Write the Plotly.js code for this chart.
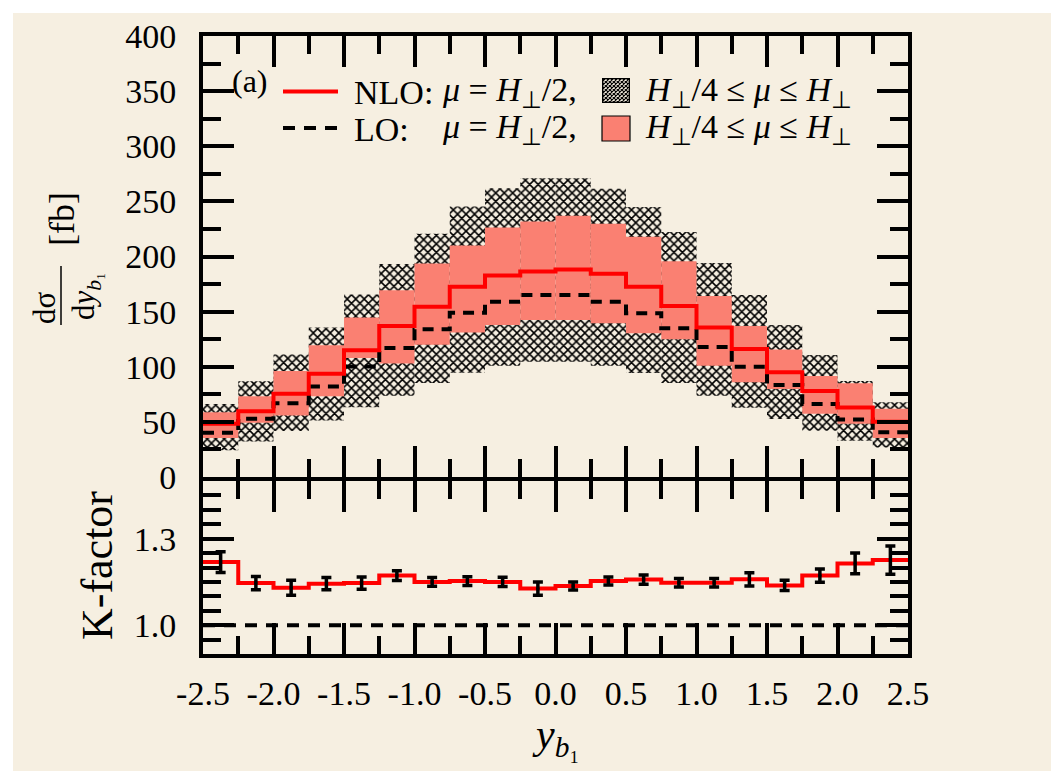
<!DOCTYPE html>
<html>
<head>
<meta charset="utf-8">
<script src="https://cdn.plot.ly/plotly-3.0.1.min.js"></script>
<style>
  html, body { margin: 0; padding: 0; background: #ffffff; width: 1051px; height: 771px; overflow: hidden; }
  #chart { position: absolute; left: 13px; top: 13px; width: 1038px; height: 758px; }
</style>
</head>
<body>
<div id="chart"></div>
<script>
// ---------------- data ----------------
const binEdges = [-2.5, -2.25, -2.0, -1.75, -1.5, -1.25, -1.0, -0.75, -0.5, -0.25, 0.0,
                  0.25, 0.5, 0.75, 1.0, 1.25, 1.5, 1.75, 2.0, 2.25, 2.5];
const binCenters = [-2.375, -2.125, -1.875, -1.625, -1.375, -1.125, -0.875, -0.625, -0.375, -0.125,
                    0.125, 0.375, 0.625, 0.875, 1.125, 1.375, 1.625, 1.875, 2.125, 2.375];
const binWidth = 0.25;

// NLO, mu = H_perp/2  [fb]
const nloCentral = [48.3, 59.7, 75.4, 93.7, 115.0, 137.0, 154.5, 172.5, 182.8, 186.4,
                    188.2, 184.3, 172.5, 155.0, 135.5, 116.0, 94.9, 78.0, 63.0, 50.2];
// LO, mu = H_perp/2  [fb]
const loCentral = [40.2, 52.8, 67.0, 82.0, 100.3, 116.9, 134.0, 149.0, 159.0, 165.0,
                   165.0, 159.0, 148.5, 134.9, 118.0, 100.0, 83.5, 66.3, 52.2, 40.6];
// NLO scale band H/4 <= mu <= H
const nloLow  = [35.4, 49.2, 55.8, 73.3, 107.9, 103.0, 119.9, 131.0, 137.9, 142.4,
                 142.4, 139.4, 130.4, 125.0, 100.9, 85.9, 79.9, 57.3, 48.3, 35.4];
const nloHigh = [58.8, 73.3, 96.1, 119.6, 144.6, 169.5, 193.6, 210.0, 226.4, 231.8,
                 236.9, 229.7, 218.0, 195.7, 164.1, 137.0, 115.7, 91.5, 85.0, 61.8];
// LO scale band H/4 <= mu <= H
const loLow  = [24.2, 32.3, 41.7, 51.3, 63.3, 73.8, 85.3, 94.6, 100.9, 104.5,
                104.5, 100.9, 94.3, 85.3, 73.8, 62.7, 52.5, 42.0, 32.8, 26.8];
const loHigh = [66.3, 86.8, 111.2, 135.5, 165.6, 193.3, 220.7, 245.3, 261.9, 270.9,
                270.9, 261.4, 245.0, 222.2, 194.2, 165.0, 137.9, 110.6, 87.0, 67.9];

// K-factor and its error
const kFactor = [1.219, 1.146, 1.130, 1.144, 1.146, 1.172, 1.150, 1.153, 1.150, 1.127,
                 1.136, 1.153, 1.158, 1.147, 1.147, 1.159, 1.138, 1.172, 1.214, 1.226];
const kErr    = [0.036, 0.023, 0.026, 0.021, 0.021, 0.017, 0.015, 0.015, 0.016, 0.023,
                 0.014, 0.014, 0.016, 0.015, 0.015, 0.023, 0.018, 0.023, 0.036, 0.049];

// tick labels
const xTickVals = [-2.5, -2.0, -1.5, -1.0, -0.5, 0.0, 0.5, 1.0, 1.5, 2.0, 2.5];
const xTickText = ['-2.5', '-2.0', '-1.5', '-1.0', '-0.5', '0.0', '0.5', '1.0', '1.5', '2.0', '2.5'];
const yTickVals = [0, 50, 100, 150, 200, 250, 300, 350, 400];
const yMinorVals = [25, 75, 125, 175, 225, 275, 325, 375];
const kTickVals = [1.0, 1.3];
const kTickText = ['1.0', '1.3'];
const kMinorVals = [0.9, 0.95, 1.05, 1.1, 1.15, 1.2, 1.25, 1.35, 1.4, 1.45, 1.5];

// ---------------- helpers ----------------
const W = 1038, H = 758, ML = 190, MR = 143, MT = 23, MB = 117, OFF = 13;
function px(pageX) { return (pageX - OFF - ML) / (W - ML - MR); }
function py(pageY) { return (H - MB - (pageY - OFF)) / (H - MT - MB); }
const stepY = arr => arr.concat([arr[arr.length - 1]]);
const diff = (a, b) => a.map((v, i) => v - b[i]);

const FONT = 'Liberation Serif, Times New Roman, serif';
const BG = '#f6efe1';
const SALMON = '#fa8072';

// ---------------- traces ----------------
const traces = [
  { // LO band (hatched)
    type: 'bar', x: binCenters, base: loLow, y: diff(loHigh, loLow), width: binWidth,
    marker: { color: 'black', line: { width: 0 },
              pattern: { shape: 'x', size: 6, solidity: 0.45, fillmode: 'replace' } },
    xaxis: 'x', yaxis: 'y', hoverinfo: 'skip', showlegend: false
  },
  { // NLO band
    type: 'bar', x: binCenters, base: nloLow, y: diff(nloHigh, nloLow), width: binWidth,
    marker: { color: SALMON, line: { width: 0 } },
    xaxis: 'x', yaxis: 'y', hoverinfo: 'skip', showlegend: false
  },
  { // LO central
    type: 'scatter', mode: 'lines', x: binEdges, y: stepY(loCentral),
    line: { shape: 'hv', color: 'black', width: 4, dash: '11px,8px' },
    xaxis: 'x', yaxis: 'y', showlegend: false
  },
  { // NLO central
    type: 'scatter', mode: 'lines', x: binEdges, y: stepY(nloCentral),
    line: { shape: 'hv', color: '#ff0000', width: 4 },
    xaxis: 'x', yaxis: 'y', showlegend: false
  },
  { // K-factor step
    type: 'scatter', mode: 'lines', x: binEdges, y: stepY(kFactor),
    line: { shape: 'hv', color: '#ff0000', width: 4 },
    xaxis: 'x2', yaxis: 'y2', showlegend: false
  },
  { // K-factor errors
    type: 'scatter', mode: 'markers', x: binCenters, y: kFactor,
    marker: { size: 3, color: 'black' },
    error_y: { type: 'data', array: kErr, visible: true, color: 'black', thickness: 3.5, width: 5 },
    xaxis: 'x2', yaxis: 'y2', showlegend: false
  }
];

// ---------------- axes ----------------
const common = {
  showline: true, linecolor: 'black', linewidth: 4, mirror: 'allticks',
  ticks: 'inside', tickcolor: 'black', tickwidth: 4, ticklen: 31,
  showgrid: false, zeroline: false, fixedrange: true,
  tickfont: { family: FONT, size: 34, color: 'black' }
};
const upperBottom = py(477), lowerTop = py(481);

const layout = {
  width: W, height: H,
  margin: { l: ML, r: MR, t: MT, b: MB, pad: 0 },
  paper_bgcolor: BG, plot_bgcolor: BG,
  barmode: 'overlay', showlegend: false,
  font: { family: FONT, color: 'black' },
  xaxis: Object.assign({}, common, {
    domain: [0, 1], anchor: 'y', range: [-2.5, 2.5],
    tickmode: 'array', tickvals: xTickVals, showticklabels: false,
    minor: { tickmode: 'array', tickvals: binEdges, ticks: 'inside', ticklen: 18, tickwidth: 4, tickcolor: 'black' }
  }),
  yaxis: Object.assign({}, common, {
    domain: [upperBottom, 1], anchor: 'x', range: [0, 400],
    tickmode: 'array', tickvals: yTickVals, ticklabelstandoff: 16,
    minor: { tickmode: 'array', tickvals: yMinorVals, ticks: 'inside', ticklen: 18, tickwidth: 4, tickcolor: 'black' }
  }),
  xaxis2: Object.assign({}, common, {
    domain: [0, 1], anchor: 'y2', range: [-2.5, 2.5],
    tickmode: 'array', tickvals: xTickVals, ticktext: xTickText, ticklabelstandoff: 6,
    minor: { tickmode: 'array', tickvals: binEdges, ticks: 'inside', ticklen: 18, tickwidth: 4, tickcolor: 'black' }
  }),
  yaxis2: Object.assign({}, common, {
    domain: [0, lowerTop], anchor: 'x2', range: [0.9, 1.5],
    tickmode: 'array', tickvals: kTickVals, ticktext: kTickText, ticklabelstandoff: 16,
    minor: { tickmode: 'array', tickvals: kMinorVals, ticks: 'inside', ticklen: 18, tickwidth: 4, tickcolor: 'black' }
  }),
  shapes: [
    // K = 1 reference line
    { type: 'line', xref: 'x2', yref: 'y2', x0: -2.5, x1: 2.5, y0: 1, y1: 1,
      line: { color: 'black', width: 4, dash: '12px,9px' } },
    // fraction bar of y title
    { type: 'line', xref: 'paper', yref: 'paper', x0: px(61), x1: px(61), y0: py(266), y1: py(325),
      line: { color: 'black', width: 1.5 } },
    // legend swatches
    { type: 'line', xref: 'paper', yref: 'paper', x0: px(283), x1: px(338), y0: py(91.5), y1: py(91.5),
      line: { color: '#ff0000', width: 4 } },
    { type: 'line', xref: 'paper', yref: 'paper', x0: px(283), x1: px(338), y0: py(128), y1: py(128),
      line: { color: 'black', width: 4, dash: '12px,9px' } },
    { type: 'rect', xref: 'paper', yref: 'paper', x0: px(602), x1: px(630), y0: py(141), y1: py(116),
      fillcolor: SALMON, line: { color: 'black', width: 1.2 } }
  ],
  annotations: []
};

function ann(text, x, y, size, opts) {
  return Object.assign({
    text: text, xref: 'paper', yref: 'paper', x: x, y: y,
    showarrow: false, xanchor: 'center', yanchor: 'middle',
    font: { family: FONT, size: size, color: 'black' }
  }, opts || {});
}
const Hperp = '<i>H</i><sub>⊥</sub>';
const SP = '\u2005';
const rel = s => SP + s + SP;
layout.annotations.push(
  ann('dσ', px(44), py(308), 31, { textangle: -90 }),
  ann('d<i>y</i><sub><i>b</i>₁</sub>', px(86), py(296), 31, { textangle: -90 }),
  ann('[fb]', px(62), py(219), 36, { textangle: -90 }),
  ann('K-factor', px(97), py(566), 44, { textangle: -90 }),
  ann('<i>y</i><sub><i>b</i>₁</sub>', px(556), py(737), 42),
  ann('(a)', px(230), py(81), 32, { xanchor: 'left' }),
  ann('NLO:', px(352), py(92), 34, { xanchor: 'left' }),
  ann('<i>μ</i>' + rel('=') + Hperp + '/2,', px(440), py(92), 34, { xanchor: 'left' }),
  ann(Hperp + '/4' + rel('≤') + '<i>μ</i>' + rel('≤') + Hperp, px(643), py(92), 34, { xanchor: 'left' }),
  ann('LO:', px(352), py(129), 34, { xanchor: 'left' }),
  ann('<i>μ</i>' + rel('=') + Hperp + '/2,', px(440), py(129), 34, { xanchor: 'left' }),
  ann(Hperp + '/4' + rel('≤') + '<i>μ</i>' + rel('≤') + Hperp, px(643), py(129), 34, { xanchor: 'left' })
);

// hatched legend swatch as an SVG image
const hatchSvg = "<svg xmlns='http://www.w3.org/2000/svg' width='28' height='25' viewBox='0 0 28 25'>" +
  "<defs><pattern id='p' width='4' height='4' patternUnits='userSpaceOnUse'>" +
  "<path d='M0,0L4,4M4,0L0,4' stroke='black' stroke-width='1.2'/></pattern></defs>" +
  "<rect x='0.6' y='0.6' width='26.8' height='23.8' fill='" + BG + "'/>" +
  "<rect x='0.6' y='0.6' width='26.8' height='23.8' fill='url(#p)' stroke='black' stroke-width='1.2'/></svg>";
layout.images = [{
  source: 'data:image/svg+xml;charset=utf-8,' + encodeURIComponent(hatchSvg),
  xref: 'paper', yref: 'paper', x: px(602), y: py(78),
  sizex: px(630) - px(602), sizey: py(78) - py(103),
  xanchor: 'left', yanchor: 'top', sizing: 'stretch', layer: 'above'
}];

Plotly.newPlot('chart', traces, layout, { displayModeBar: false, staticPlot: true });
</script>
</body>
</html>
